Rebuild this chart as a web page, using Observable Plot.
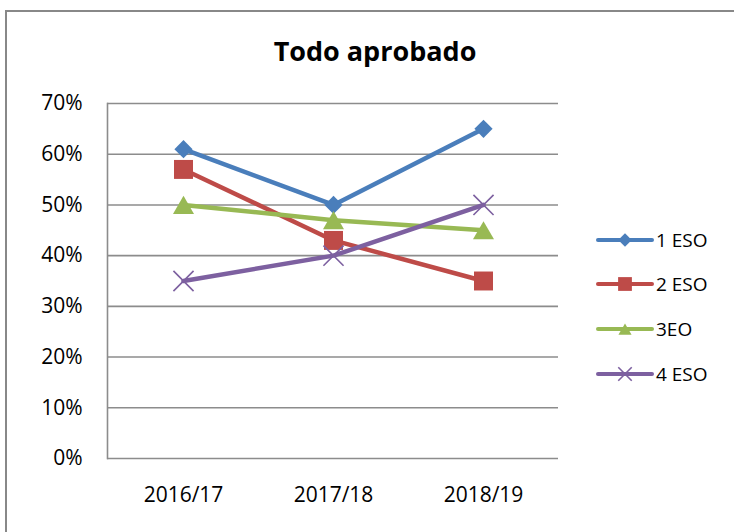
<!DOCTYPE html>
<html>
<head>
<meta charset="utf-8">
<script src="https://cdn.jsdelivr.net/npm/d3@7"></script>
<script src="https://cdn.jsdelivr.net/npm/@observablehq/plot@0.6"></script>
<style>
  html, body { margin: 0; padding: 0; background: #fff; }
  #wrap { position: relative; width: 734px; height: 532px; overflow: hidden; }
  #wrap > svg { position: absolute; left: 0; top: 0; }
</style>
</head>
<body>
<div id="wrap"></div>
<script>
const title = "Todo aprobado";
const years = ["2016/17", "2017/18", "2018/19"];
const seriesNames = ["1 ESO", "2 ESO", "3EO", "4 ESO"];
const eso1 = [0.61, 0.50, 0.65];
const eso2 = [0.57, 0.43, 0.35];
const eo3  = [0.50, 0.47, 0.45];
const eso4 = [0.35, 0.40, 0.50];
const yTicks = [0, 0.1, 0.2, 0.3, 0.4, 0.5, 0.6, 0.7];

const colors = ["#4A7EBB", "#BE4B48", "#98B954", "#7D60A0"];
const symbols = ["diamond2", "square", "triangle", "times"];
const valueLists = [eso1, eso2, eo3, eso4];

const data = [];
seriesNames.forEach((s, i) => years.forEach((y, j) => data.push({series: s, year: y, value: valueLists[i][j]})));

const FONT = "'Open Sans', 'Noto Sans', sans-serif";

const marks = [
  Plot.ruleY(yTicks, {stroke: "#8c8c8c", strokeWidth: 1.6}),
  Plot.frame({anchor: "left", stroke: "#8c8c8c", strokeWidth: 1.6}),
  Plot.axisY(yTicks, {tickSize: 0, tickPadding: 25, tickFormat: d3.format(".0%"), fontSize: 21, label: null}),
  Plot.axisX({tickSize: 0, tickPadding: 29, fontSize: 21, label: null})
];
const dotOpts = [
  {r: 8.2, fill: colors[0]},
  {r: 10.7, fill: colors[1]},
  {r: 7.8, fill: colors[2], dy: 3},
  {r: 9.2, stroke: colors[3], strokeWidth: 1.6, fill: "none"}
];
seriesNames.forEach((s, i) => {
  const d = data.filter(r => r.series === s);
  marks.push(Plot.line(d, {x: "year", y: "value", stroke: colors[i], strokeWidth: 4.5, strokeLinejoin: "round", strokeLinecap: "round"}));
  marks.push(Plot.dot(d, {x: "year", y: "value", symbol: () => symbols[i], ...dotOpts[i]}));
});

const chart = Plot.plot({
  width: 734,
  height: 532,
  marginLeft: 107,
  marginRight: 176,
  marginTop: 103,
  marginBottom: 74,
  x: {type: "point", domain: years, padding: 0.5, axis: null},
  y: {domain: [0, 0.7], axis: null},
  symbol: {type: "identity"},
  style: {fontFamily: FONT, fontSize: "21px", color: "#000", background: "transparent", overflow: "visible"},
  marks
});
document.getElementById("wrap").appendChild(chart);

// overlay: border, title, legend
const ov = d3.select("#wrap").append("svg")
  .attr("width", 734).attr("height", 532)
  .style("font-family", FONT);

ov.append("rect")
  .attr("x", 6).attr("y", 11).attr("width", 760).attr("height", 560)
  .attr("fill", "none").attr("stroke", "#888").attr("stroke-width", 2);

ov.append("text")
  .attr("x", 375).attr("y", 61)
  .attr("text-anchor", "middle")
  .attr("font-weight", "bold").attr("font-size", 27)
  .attr("fill", "#000")
  .text(title);

const legSizes = [
  {type: d3.symbolDiamond2, size: 115, fill: true},
  {type: d3.symbolSquare, size: 190, fill: true},
  {type: d3.symbolTriangle, size: 75, fill: true},
  {type: d3.symbolTimes, size: 120, fill: false}
];
const legY = [240, 284, 329, 374];
seriesNames.forEach((s, i) => {
  const g = ov.append("g").attr("transform", `translate(0,${legY[i]})`);
  g.append("line").attr("x1", 598).attr("x2", 652).attr("y1", 0).attr("y2", 0)
    .attr("stroke", colors[i]).attr("stroke-width", 4).attr("stroke-linecap", "round");
  const sym = d3.symbol(legSizes[i].type, legSizes[i].size)();
  const p = g.append("path").attr("d", sym).attr("transform", `translate(625,${i === 2 ? 2 : 0})`);
  if (legSizes[i].fill) p.attr("fill", colors[i]);
  else p.attr("fill", "none").attr("stroke", colors[i]).attr("stroke-width", 1.6);
  g.append("text").attr("x", 656).attr("y", 0).attr("dy", "0.35em")
    .attr("font-size", 19).attr("fill", "#000").text(s);
});
</script>
</body>
</html>
